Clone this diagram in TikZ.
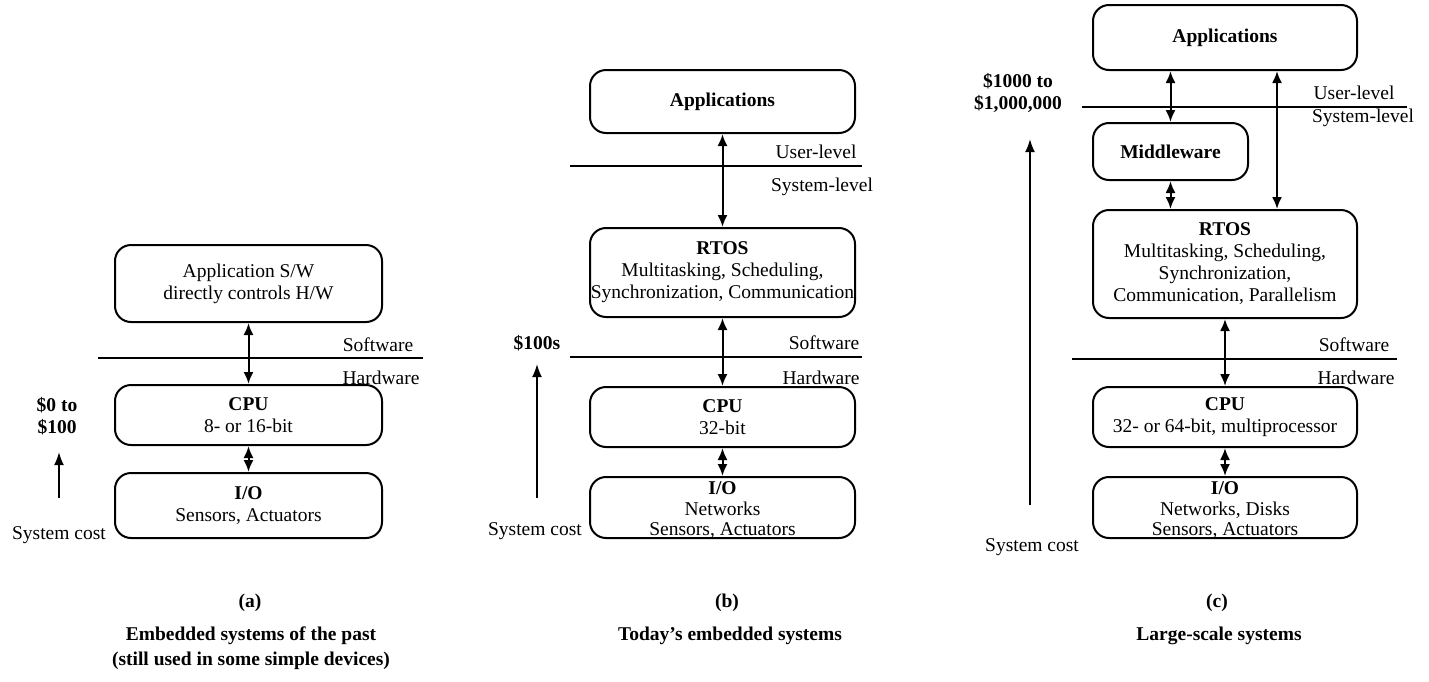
\documentclass[tikz,border=0pt]{standalone}
\usepackage{fontspec}
\setmainfont{Liberation Serif}
\usetikzlibrary{arrows.meta}
\newcommand\figfont{\fontsize{19.5}{22}\selectfont}
\newcommand\tightfont{\fontsize{19.5}{20.5}\selectfont}
\newcommand\capfont{\fontsize{19.5}{25}\selectfont\bfseries}
\begin{document}
\begin{tikzpicture}[x=1pt,y=-1pt,
  box/.style={draw, line width=2pt, rounded corners=16pt, align=center,
              inner sep=0pt, font=\figfont},
  lbl/.style={font=\figfont, inner sep=0pt, align=center},
  costrange/.style={font=\figfont\bfseries, inner sep=0pt, align=center},
  boxtext/.style={font=\tightfont, inner sep=0pt, align=center},
  caption/.style={font=\capfont, inner sep=0pt, align=center},
  level/.style={line width=1.8pt},
  link/.style={line width=2pt,
               {Latex[length=12pt,width=10pt]}-{Latex[length=12pt,width=10pt]}},
  cost/.style={line width=2pt, -{Latex[length=13pt,width=10pt]}}]
\useasboundingbox (0,0) rectangle (1429,681);

% ---------------- (a) embedded systems of the past ----------------
\node[box, minimum width=267pt, minimum height=77pt] (aapp) at (248.5,283.5)
  {Application S/W\\directly controls H/W};
\node[box, minimum width=267pt, minimum height=60pt] (acpu) at (248.5,415)
  {\textbf{CPU}\\8- or 16-bit};
\node[box, minimum width=267pt, minimum height=65pt] (aio) at (248.5,505.5)
  {\textbf{I/O}\\Sensors, Actuators};
\draw[link] (aapp.south) -- (acpu.north);
\draw[link] (acpu.south) -- (aio.north);

\coordinate (alineL) at (98,358);
\coordinate (alineR) at (423,358);
\draw[level] (alineL) -- (alineR);
\node[lbl] (asw) at (378,345) {Software};
\node[lbl] (ahw) at (381,378) {Hardware};

\node[costrange] (arange) at (57,416) {\$0 to\\\$100};
\node[lbl] (acost) at (59,535) {System cost};
\coordinate (acost0) at (59,498);
\coordinate (acost1) at (59,452);
\draw[cost] (acost0) -- (acost1);

\node[caption] (acap) at (250,603) {(a)};
\node[caption] (adesc) at (251,648.5)
  {Embedded systems of the past\\(still used in some simple devices)};

% ---------------- (b) today's embedded systems ----------------
\node[box, minimum width=265pt, minimum height=63pt, font=\figfont\bfseries]
  (bapp) at (722.5,101.5) {Applications};
\node[box, minimum width=265pt, minimum height=89pt] (brtos) at (722.5,272.5)
  {\textbf{RTOS}\\Multitasking, Scheduling,\\Synchronization, Communication};
\node[box, minimum width=265pt, minimum height=60pt] (bcpu) at (722.5,417)
  {\textbf{CPU}\\32-bit};
\node[box, minimum width=265pt, minimum height=61pt,
  label={[boxtext, yshift=-3pt]center:{\textbf{I/O}\\Networks\\Sensors, Actuators}}]
  (bio) at (722.5,507.5) {};
\draw[link] (bapp.south) -- (brtos.north);
\draw[link] (brtos.south) -- (bcpu.north);
\draw[link] (bcpu.south) -- (bio.north);

\coordinate (bulineL) at (570,166);
\coordinate (bulineR) at (862,166);
\draw[level] (bulineL) -- (bulineR);
\node[lbl] (buser) at (816,152) {User-level};
\node[lbl] (bsys) at (822,187) {System-level};

\coordinate (bhlineL) at (570,357);
\coordinate (bhlineR) at (862,357);
\draw[level] (bhlineL) -- (bhlineR);
\node[lbl] (bsw) at (824,343) {Software};
\node[lbl] (bhw) at (821,378) {Hardware};

\node[costrange] (brange) at (537,343) {\$100s};
\node[lbl] (bcost) at (535,531) {System cost};
\coordinate (bcost0) at (537,498);
\coordinate (bcost1) at (537,364);
\draw[cost] (bcost0) -- (bcost1);

\node[caption] (bcap) at (727,603) {(b)};
\node[caption] (bdesc) at (730,636) {Today's embedded systems};

% ---------------- (c) large-scale systems ----------------
\node[box, minimum width=264pt, minimum height=65pt, font=\figfont\bfseries]
  (capp) at (1225,37.5) {Applications};
\node[box, minimum width=155pt, minimum height=57pt, font=\figfont\bfseries]
  (cmid) at (1170.5,151.5) {Middleware};
\node[box, minimum width=264pt, minimum height=108pt] (crtos) at (1225,264)
  {\textbf{RTOS}\\Multitasking, Scheduling,\\Synchronization,\\Communication, Parallelism};
\node[box, minimum width=264pt, minimum height=60pt] (ccpu) at (1225,417)
  {\textbf{CPU}\\32- or 64-bit, multiprocessor};
\node[box, minimum width=264pt, minimum height=61pt,
  label={[boxtext, yshift=-3pt]center:{\textbf{I/O}\\Networks, Disks\\Sensors, Actuators}}]
  (cio) at (1225,507.5) {};

\coordinate (clong) at (1277,0);
\draw[link] (capp.south -| cmid) -- (cmid.north);
\draw[link] (cmid.south) -- (crtos.north -| cmid);
\draw[link] (capp.south -| clong) -- (crtos.north -| clong);
\draw[link] (crtos.south) -- (ccpu.north);
\draw[link] (ccpu.south) -- (cio.north);

\coordinate (culineL) at (1082,107);
\coordinate (culineR) at (1407,107);
\draw[level] (culineL) -- (culineR);
\node[lbl] (cuser) at (1354,93) {User-level};
\node[lbl] (csys) at (1363,118) {System-level};

\coordinate (chlineL) at (1072,359);
\coordinate (chlineR) at (1397,359);
\draw[level] (chlineL) -- (chlineR);
\node[lbl] (csw) at (1354,345) {Software};
\node[lbl] (chw) at (1356,378) {Hardware};

\node[costrange] (crange) at (1018,93) {\$1000 to\\\$1,000,000};
\node[lbl] (ccost) at (1032,547) {System cost};
\coordinate (ccost0) at (1030,505);
\coordinate (ccost1) at (1030,139);
\draw[cost] (ccost0) -- (ccost1);

\node[caption] (ccap) at (1217,603) {(c)};
\node[caption] (cdesc) at (1219,636) {Large-scale systems};
\end{tikzpicture}
\end{document}
